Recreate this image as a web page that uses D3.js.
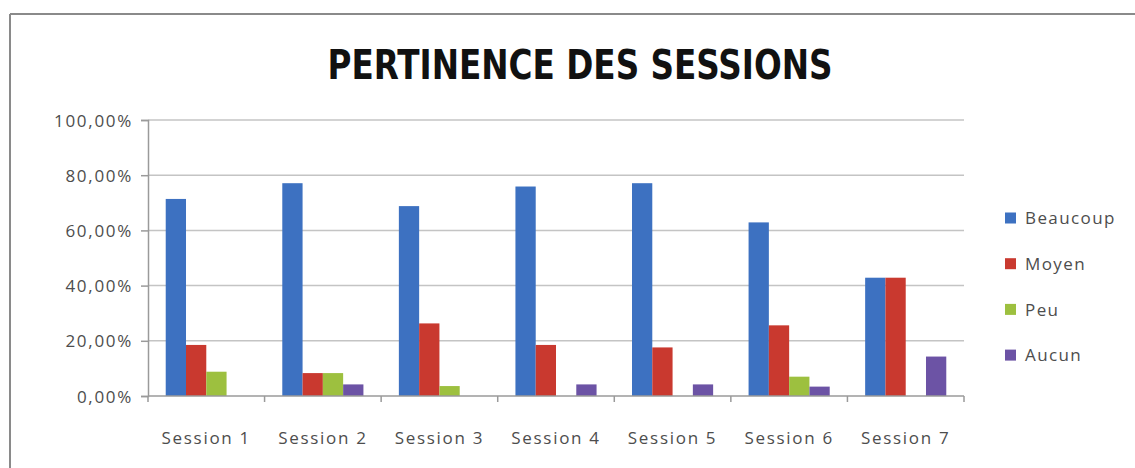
<!DOCTYPE html>
<html>
<head>
<meta charset="utf-8">
<script src="https://cdn.jsdelivr.net/npm/d3@7"></script>
<style>
	body { margin: 0; background: #fff; }
	svg { display: block; }
	.tick-label { font-family: 'Open Sans', sans-serif; font-size: 17px; fill: #4d4d4d; letter-spacing: 1.7px; }
	.legend-label { font-family: 'Open Sans', sans-serif; font-size: 17px; fill: #4d4d4d; letter-spacing: 1.4px; }
</style>
</head>
<body>
<div id="chart"></div>
<script>

var categories = ['Session 1', 'Session 2', 'Session 3', 'Session 4', 'Session 5', 'Session 6', 'Session 7']
var seriesNames = ['Beaucoup', 'Moyen', 'Peu', 'Aucun']
var beaucoup = [71.4, 77.1, 68.8, 75.9, 77.1, 62.9, 42.86]
var moyen = [18.5, 8.3, 26.3, 18.5, 17.6, 25.6, 42.86]
var peu = [8.8, 8.3, 3.6, 0, 0, 7.0, 0]
var aucun = [0, 4.2, 0, 4.2, 4.2, 3.4, 14.29]
var yTicks = [0, 20, 40, 60, 80, 100]
var title = 'PERTINENCE DES SESSIONS'

var colors = ['#3d71c1', '#c9392f', '#9dc03f', '#6c53a5']
var seriesValues = [beaucoup, moyen, peu, aucun]

var width = 1135, height = 468
var margin = { left: 148, right: 171, top: 120, bottom: 72 }

var svg = d3.select('#chart').append('svg')
	.attr('width', width)
	.attr('height', height)

// chart frame (only top and left edges show in the picture)
svg.append('line')
	.attr('x1', 10).attr('x2', width).attr('y1', 14).attr('y2', 14)
	.attr('stroke', '#8a8a8a').attr('stroke-width', 2)
svg.append('line')
	.attr('x1', 10).attr('x2', 10).attr('y1', 14).attr('y2', height)
	.attr('stroke', '#8a8a8a').attr('stroke-width', 2)

svg.append('text')
	.attr('x', 580)
	.attr('y', 79)
	.attr('text-anchor', 'middle')
	.attr('textLength', 505)
	.attr('lengthAdjust', 'spacingAndGlyphs')
	.style('font-family', "'DejaVu Sans Condensed', 'DejaVu Sans', sans-serif")
	.style('font-stretch', 'condensed')
	.style('font-weight', 'bold')
	.style('font-size', '40px')
	.style('fill', '#111')
	.text(title)

var plotW = width - margin.left - margin.right
var plotH = height - margin.top - margin.bottom

var plot = svg.append('g')
	.attr('transform', 'translate(' + margin.left + ',' + margin.top + ')')

var x0 = d3.scaleBand().domain(categories).range([0, plotW])
var bw = x0.bandwidth()
var x1 = d3.scaleBand().domain(seriesNames).range([bw * 0.152, bw * 0.848])
var y = d3.scaleLinear().domain([0, 100]).range([plotH, 0])

// gridlines
plot.selectAll('.grid')
	.data(yTicks.slice(1))
	.enter().append('line')
	.attr('class', 'grid')
	.attr('x1', 0).attr('x2', plotW)
	.attr('y1', function (d) { return y(d) })
	.attr('y2', function (d) { return y(d) })
	.attr('stroke', '#c4c4c4')
	.attr('stroke-width', 1.5)

// bars
var groups = plot.selectAll('.group')
	.data(categories)
	.enter().append('g')
	.attr('class', 'group')
	.attr('transform', function (d) { return 'translate(' + x0(d) + ',0)' })

groups.selectAll('rect')
	.data(function (d, i) {
		return seriesNames.map(function (s, j) { return { s: s, v: seriesValues[j][i], c: colors[j] } })
	})
	.enter().append('rect')
	.attr('x', function (d) { return x1(d.s) })
	.attr('width', x1.bandwidth())
	.attr('y', function (d) { return y(d.v) })
	.attr('height', function (d) { return plotH - y(d.v) })
	.attr('fill', function (d) { return d.c })

// y axis
var yAxisG = plot.append('g')
	.call(d3.axisLeft(y).tickValues(yTicks).tickSize(7).tickPadding(8)
		.tickFormat(function (d) { return d3.format('.2f')(d).replace('.', ',') + '%' }))
yAxisG.select('.domain').attr('stroke', '#9a9a9a').attr('stroke-width', 1.5)
yAxisG.selectAll('.tick line').attr('stroke', '#9a9a9a').attr('stroke-width', 1.5)
yAxisG.selectAll('.tick text').attr('class', 'tick-label').attr('dy', '0.36em')

// x axis
var xAxisG = plot.append('g')
	.attr('transform', 'translate(0,' + plotH + ')')
xAxisG.append('line')
	.attr('x1', 0).attr('x2', plotW)
	.attr('stroke', '#9a9a9a').attr('stroke-width', 1.5)
xAxisG.selectAll('.xtick')
	.data(categories.concat(['end']))
	.enter().append('line')
	.attr('x1', function (d, i) { return i * bw })
	.attr('x2', function (d, i) { return i * bw })
	.attr('y1', 0).attr('y2', 6)
	.attr('stroke', '#9a9a9a').attr('stroke-width', 1.5)
xAxisG.selectAll('.xlabel')
	.data(categories)
	.enter().append('text')
	.attr('class', 'tick-label')
	.attr('x', function (d) { return x0(d) + bw / 2 })
	.attr('y', 48)
	.attr('text-anchor', 'middle')
	.text(function (d) { return d })

// legend
var legend = svg.append('g')
	.attr('transform', 'translate(1005,218)')
var items = legend.selectAll('.item')
	.data(seriesNames)
	.enter().append('g')
	.attr('transform', function (d, i) { return 'translate(0,' + i * 45.7 + ')' })
items.append('rect')
	.attr('x', 0).attr('y', -5.5)
	.attr('width', 11).attr('height', 11)
	.attr('fill', function (d, i) { return colors[i] })
items.append('text')
	.attr('class', 'legend-label')
	.attr('x', 20)
	.attr('dy', '0.36em')
	.text(function (d) { return d })

</script>
</body>
</html>
